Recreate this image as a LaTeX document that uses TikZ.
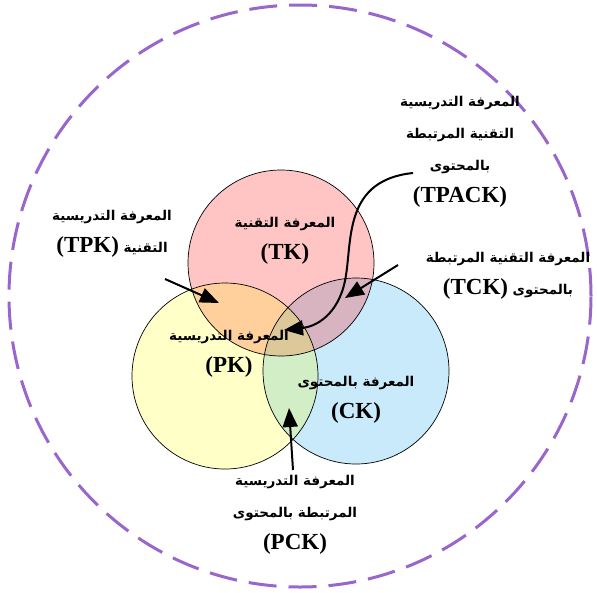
\documentclass[tikz,border=0pt]{standalone}
\usepackage{fontspec}
\usetikzlibrary{arrows.meta}
\TeXXeTstate=1
\newfontfamily\arabicfont[Script=Arabic]{DejaVu Sans}
\newfontfamily\latinfont{Liberation Serif}
\newcommand\artxt[1]{{\arabicfont\bfseries\fontsize{13.5}{32}\selectfont\beginR #1\endR}}
\newcommand\lattxt[1]{{\latinfont\bfseries\fontsize{23}{32}\selectfont\beginL #1\endL}}
\newcommand\mixtxt[2]{\beginR{\arabicfont\bfseries\fontsize{13.5}{32}\selectfont #1} {\latinfont\bfseries\fontsize{23}{32}\selectfont\beginL #2\endL}\endR}
\definecolor{tkcol}{HTML}{FFC4C4}
\definecolor{pkcol}{HTML}{FFFFC8}
\definecolor{ckcol}{HTML}{C8EAFA}
\definecolor{tpkcol}{HTML}{FFD09C}
\definecolor{tckcol}{HTML}{D8B4C0}
\definecolor{pckcol}{HTML}{D2EEC6}
\definecolor{allcol}{HTML}{DCC898}
\definecolor{outercol}{HTML}{9966CC}
\begin{document}
\begin{tikzpicture}[x=1pt,y=-1pt,
  lbl/.style={align=center,inner sep=0pt,font=\fontsize{14}{32}\selectfont},
  setc/.style={circle,minimum size=186pt,inner sep=0pt},
  arr/.style={line width=2pt,-{Triangle[length=19pt,width=15pt]}},
  outline/.style={draw=black,line width=0.7pt}]
\useasboundingbox (0,0) rectangle (597,592);
% circle positions
\coordinate (ctk) at (281,263);
\coordinate (cpk) at (225,376);
\coordinate (cck) at (356,371);
% fills
\fill[tkcol] (ctk) circle[radius=93pt];
\fill[pkcol] (cpk) circle[radius=93pt];
\fill[ckcol] (cck) circle[radius=93pt];
\begin{scope}\clip (ctk) circle[radius=93pt]; \fill[tpkcol] (cpk) circle[radius=93pt];\end{scope}
\begin{scope}\clip (ctk) circle[radius=93pt]; \fill[tckcol] (cck) circle[radius=93pt];\end{scope}
\begin{scope}\clip (cpk) circle[radius=93pt]; \fill[pckcol] (cck) circle[radius=93pt];\end{scope}
\begin{scope}\clip (ctk) circle[radius=93pt]; \clip (cpk) circle[radius=93pt]; \fill[allcol] (cck) circle[radius=93pt];\end{scope}
% outlines as named nodes
\node[setc,outline] (tk) at (ctk) {};
\node[setc,outline] (pk) at (cpk) {};
\node[setc,outline] (ck) at (cck) {};
% outer dashed circle
\node[circle,minimum size=582pt,inner sep=0pt,draw=outercol,line width=3pt,dash pattern=on 28pt off 12pt] (outer) at (300,296) {};
% labels
\node[lbl] (ltk) at (285,241) {\artxt{المعرفة التقنية}\\ \lattxt{(TK)}};
\node[lbl] (lpk) at (229,354) {\artxt{المعرفة التدريسية}\\ \lattxt{(PK)}};
\node[lbl] (lck) at (356,400) {\artxt{المعرفة بالمحتوى}\\ \lattxt{(CK)}};
\node[lbl] (ltpack) at (460,152) {\artxt{المعرفة التدريسية}\\ \artxt{التقنية المرتبطة}\\ \artxt{بالمحتوى}\\ \lattxt{(TPACK)}};
\node[lbl] (ltpk) at (112,234) {\artxt{المعرفة التدريسية}\\ \mixtxt{التقنية}{(TPK)}};
\node[lbl] (ltck) at (508,276) {\artxt{المعرفة التقنية المرتبطة}\\ \mixtxt{بالمحتوى}{(TCK)}};
\node[lbl] (lpck) at (295,515) {\artxt{المعرفة التدريسية}\\ \artxt{المرتبطة بالمحتوى}\\ \lattxt{(PCK)}};
% arrow end points
\coordinate (tpks) at (165,279);
\coordinate (tpke) at (219,303);
\coordinate (tcks) at (398,265);
\coordinate (tcke) at (345,298);
\coordinate (pcks) at (293,470);
\coordinate (pcke) at (289,408);
\coordinate (tpacks) at (413,173);
\coordinate (tpackm) at (346,275);
\coordinate (tpacke) at (284,330);
\draw[arr] (tpks) -- (tpke);
\draw[arr] (tcks) -- (tcke);
\draw[arr] (pcks) -- (pcke);
\draw[arr] (tpacks) .. controls (345,180) and (352,238) .. (tpackm) .. controls (341,310) and (320,326) .. (tpacke);
\end{tikzpicture}
\end{document}
